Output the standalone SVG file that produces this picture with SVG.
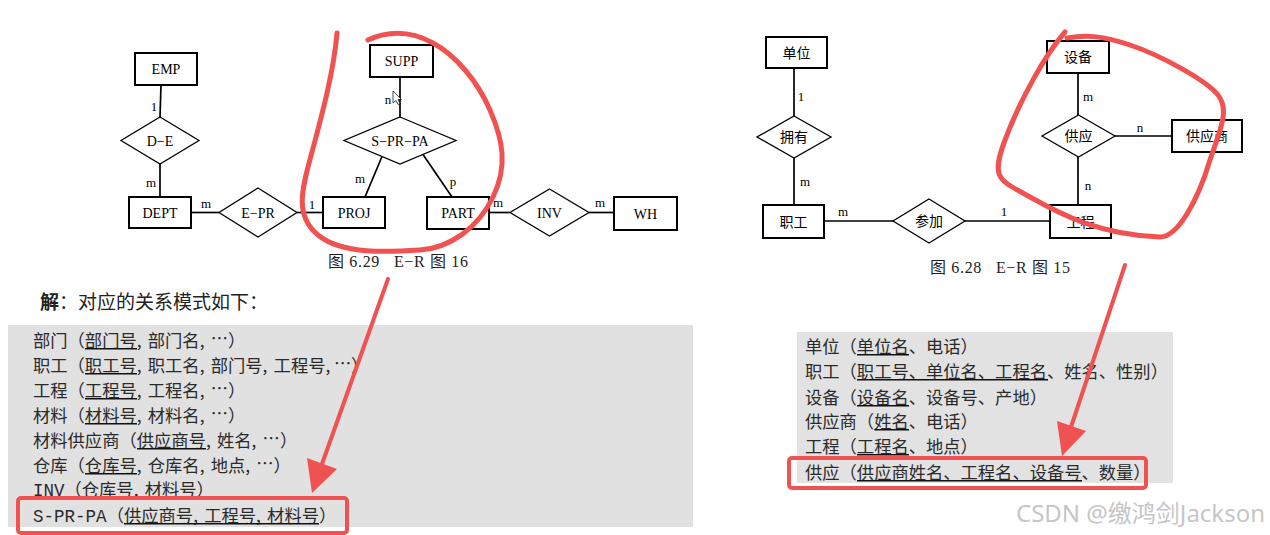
<svg xmlns="http://www.w3.org/2000/svg" width="1270" height="535" viewBox="0 0 1270 535">
<style>
.ent{fill:#fff;stroke:#000;stroke-width:2}
.rel{fill:#fff;stroke:#000;stroke-width:1.3}
.con line{stroke:#000;stroke-width:1.7}
.lbl{font-family:"Liberation Serif","Noto Sans CJK SC",serif;font-size:14px;text-anchor:middle;fill:#000}
.cjk{font-family:"Noto Sans CJK SC",sans-serif;font-size:14px;text-anchor:middle;fill:#000}
.card{font-family:"Liberation Serif",serif;font-size:13px;text-anchor:middle;fill:#000}
.cap{font-family:"Liberation Serif","Noto Sans CJK SC",serif;font-size:16px;fill:#222}
.body{font-family:"Noto Sans CJK SC",sans-serif;font-size:17.3px;fill:#2a2a2a}
.mono{font-family:"Liberation Mono",monospace;font-size:17.5px}
.ul{stroke:#111;stroke-width:1.5}
.red{fill:none;stroke:#f05252;stroke-width:5;stroke-linecap:round;stroke-linejoin:round}
.redbox{fill:none;stroke:#f05252;stroke-width:4}
</style>
<rect width="1270" height="535" fill="#fff"/>

<!-- gray panels -->
<rect x="8" y="325" width="685" height="202" fill="#e1e1e1"/>
<rect x="797" y="332" width="376" height="151" fill="#e2e2e2"/>

<!-- LEFT ER connectors -->
<g id="connectors-left" class="con">
<line x1="161" y1="85" x2="160" y2="117"/>
<line x1="160" y1="164" x2="160" y2="197"/>
<line x1="191" y1="212.5" x2="219" y2="212.5"/>
<line x1="297" y1="212.5" x2="323" y2="212.5"/>
<line x1="400" y1="77" x2="400" y2="117"/>
<line x1="382" y1="156.5" x2="365" y2="197"/>
<line x1="423" y1="154.5" x2="452" y2="197"/>
<line x1="489" y1="212.5" x2="510" y2="212.5"/>
<line x1="589" y1="212.5" x2="614" y2="212.5"/>
</g>
<g id="cards-left">
<text class="card" x="154" y="111">1</text>
<text class="card" x="151" y="187">m</text>
<text class="card" x="206" y="208">m</text>
<text class="card" x="312" y="209">1</text>
<text class="card" x="388" y="104">n</text>
<text class="card" x="360" y="183">m</text>
<text class="card" x="453" y="186">p</text>
<text class="card" x="498" y="207">m</text>
<text class="card" x="600" y="207">m</text>
</g>
<g id="EMP"><rect class="ent" x="135" y="53" width="62" height="32"/><text class="lbl" x="166" y="74">EMP</text></g>
<g id="D-E"><polygon class="rel" points="160,117 199,140.5 160,164 121,140.5"/><text class="lbl" x="160" y="145.5">D−E</text></g>
<g id="DEPT"><rect class="ent" x="129" y="197" width="62" height="31"/><text class="lbl" x="160" y="217.5">DEPT</text></g>
<g id="E-PR"><polygon class="rel" points="258,188 297,212.5 258,237 219,212.5"/><text class="lbl" x="258" y="217.5">E−PR</text></g>
<g id="PROJ"><rect class="ent" x="323" y="197" width="62" height="31"/><text class="lbl" x="354" y="217.5">PROJ</text></g>
<g id="SUPP"><rect class="ent" x="370" y="45" width="63" height="32"/><text class="lbl" x="401.5" y="66">SUPP</text></g>
<g id="S-PR-PA"><polygon class="rel" points="400,117 456,140.5 400,164 344,140.5"/><text class="lbl" x="400" y="145.5">S−PR−PA</text></g>
<g id="PART"><rect class="ent" x="427" y="197" width="62" height="32"/><text class="lbl" x="458" y="218">PART</text></g>
<g id="INV"><polygon class="rel" points="549.5,189 589,212.5 549.5,236 510,212.5"/><text class="lbl" x="549.5" y="217.5">INV</text></g>
<g id="WH"><rect class="ent" x="614" y="197" width="63" height="33"/><text class="lbl" x="645.5" y="218.5">WH</text></g>
<text class="cap" x="328" y="267" textLength="140" lengthAdjust="spacing" xml:space="preserve">图 6.29   E−R 图 16</text>
<!-- cursor -->
<polygon points="393,91 393,103 396,100.5 398,104.5 400,103.5 398,99.5 401.5,99.5" fill="#fff" stroke="#000" stroke-width="0.7"/>

<!-- RIGHT ER connectors -->
<g id="connectors-right" class="con">
<line x1="794" y1="68" x2="794" y2="116"/>
<line x1="794" y1="158" x2="794" y2="205"/>
<line x1="824" y1="221" x2="893" y2="221"/>
<line x1="965" y1="221" x2="1050" y2="221"/>
<line x1="1078" y1="73" x2="1078" y2="115"/>
<line x1="1115" y1="136" x2="1172" y2="136"/>
<line x1="1078" y1="157" x2="1078" y2="205"/>
</g>
<g id="cards-right">
<text class="card" x="801" y="101">1</text>
<text class="card" x="805" y="186">m</text>
<text class="card" x="843" y="216">m</text>
<text class="card" x="1004" y="216">1</text>
<text class="card" x="1088" y="101">m</text>
<text class="card" x="1140" y="132">n</text>
<text class="card" x="1088" y="190">n</text>
</g>
<g id="单位"><rect class="ent" x="766" y="37" width="61" height="31"/><text class="cjk" x="796.5" y="57.5">单位</text></g>
<g id="拥有"><polygon class="rel" points="794,116 831,137 794,158 757,137"/><text class="cjk" x="794" y="142">拥有</text></g>
<g id="职工"><rect class="ent" x="763" y="205" width="61" height="33"/><text class="cjk" x="793.5" y="226.5">职工</text></g>
<g id="参加"><polygon class="rel" points="929,199 965,221 929,243 893,221"/><text class="cjk" x="929" y="226">参加</text></g>
<g id="工程"><rect class="ent" x="1050" y="205" width="61" height="33"/><text class="cjk" x="1080.5" y="226.5">工程</text></g>
<g id="设备"><rect class="ent" x="1047" y="41" width="62" height="32"/><text class="cjk" x="1078" y="62">设备</text></g>
<g id="供应"><polygon class="rel" points="1078.5,115 1115,136 1078.5,157 1042,136"/><text class="cjk" x="1078.5" y="141">供应</text></g>
<g id="供应商"><rect class="ent" x="1172" y="120" width="70" height="32"/><text class="cjk" x="1207" y="141">供应商</text></g>
<text class="cap" x="930" y="273" textLength="140" lengthAdjust="spacing" xml:space="preserve">图 6.28   E−R 图 15</text>

<!-- LEFT text -->
<text x="40" y="309" font-family="Noto Sans CJK SC, sans-serif" font-size="19" fill="#222"><tspan font-weight="bold">解</tspan>：对应的关系模式如下：</text>
<g class="body">
<text y="346.5"><tspan x="33">部门（部门号</tspan><tspan x="136.8">,</tspan><tspan x="147.8">部门名</tspan><tspan x="199.7">,</tspan><tspan x="210.7" y="344.5">…</tspan><tspan x="228" y="346.5">）</tspan></text>
<text y="371.5"><tspan x="33">职工（职工号</tspan><tspan x="136.8">,</tspan><tspan x="147.8">职工名</tspan><tspan x="199.7">,</tspan><tspan x="210.7">部门号</tspan><tspan x="262.6">,</tspan><tspan x="273.6">工程号</tspan><tspan x="325.5">,</tspan><tspan x="334" y="369.5">…</tspan><tspan x="351" y="371.5">）</tspan></text>
<text y="396.5"><tspan x="33">工程（工程号</tspan><tspan x="136.8">,</tspan><tspan x="147.8">工程名</tspan><tspan x="199.7">,</tspan><tspan x="210.7" y="394.5">…</tspan><tspan x="228" y="396.5">）</tspan></text>
<text y="421.5"><tspan x="33">材料（材料号</tspan><tspan x="136.8">,</tspan><tspan x="147.8">材料名</tspan><tspan x="199.7">,</tspan><tspan x="210.7" y="419.5">…</tspan><tspan x="228" y="421.5">）</tspan></text>
<text y="446.5"><tspan x="33">材料供应商（供应商号</tspan><tspan x="206">,</tspan><tspan x="217">姓名</tspan><tspan x="251.6">,</tspan><tspan x="262.6" y="444.5">…</tspan><tspan x="279.9" y="446.5">）</tspan></text>
<text y="471.5"><tspan x="33">仓库（仓库号</tspan><tspan x="136.8">,</tspan><tspan x="147.8">仓库名</tspan><tspan x="199.7">,</tspan><tspan x="210.7">地点</tspan><tspan x="245.3">,</tspan><tspan x="256.3" y="469.5">…</tspan><tspan x="273.6" y="471.5">）</tspan></text>
<text y="495.5"><tspan x="33" class="mono">INV</tspan><tspan x="64.5">（仓库号</tspan><tspan x="133.7">,</tspan><tspan x="144.7">材料号）</tspan></text>
<text y="521.5"><tspan x="33" class="mono">S-PR-PA</tspan><tspan x="106.7">（供应商号</tspan><tspan x="193.2">,</tspan><tspan x="204.2">工程号</tspan><tspan x="256.1">,</tspan><tspan x="267.1">材料号）</tspan></text>
</g>
<g id="underlines-left" class="ul">
<line x1="85" y1="348.8" x2="137" y2="348.8"/>
<line x1="85" y1="373.8" x2="137" y2="373.8"/>
<line x1="85" y1="398.8" x2="137" y2="398.8"/>
<line x1="85" y1="423.8" x2="137" y2="423.8"/>
<line x1="137" y1="448.8" x2="206" y2="448.8"/>
<line x1="85" y1="473.8" x2="137" y2="473.8"/>
<line x1="124" y1="523.8" x2="319" y2="523.8"/>
</g>

<!-- RIGHT text -->
<g class="body">
<text x="805" y="352.5">单位（单位名、电话）</text>
<text x="805" y="377.5">职工（职工号、单位名、工程名、姓名、性别）</text>
<text x="805" y="403.5">设备（设备名、设备号、产地）</text>
<text x="805" y="427.5">供应商（姓名、电话）</text>
<text x="805" y="452.5">工程（工程名、地点）</text>
<text x="805" y="478.5">供应（供应商姓名、工程名、设备号、数量）</text>
</g>
<g id="underlines-right" class="ul">
<line x1="857" y1="354.8" x2="909" y2="354.8"/>
<line x1="857" y1="379.8" x2="1048" y2="379.8"/>
<line x1="857" y1="405.8" x2="909" y2="405.8"/>
<line x1="874.3" y1="429.8" x2="909" y2="429.8"/>
<line x1="857" y1="454.8" x2="909" y2="454.8"/>
<line x1="857" y1="480.8" x2="1082" y2="480.8"/>
</g>

<!-- watermark -->
<text x="1016" y="522" font-family="Noto Sans, Noto Sans CJK SC, sans-serif" font-size="24" fill="#c6c6c6" textLength="249" lengthAdjust="spacingAndGlyphs">CSDN @缴鸿剑Jackson</text>

<!-- red annotations -->
<g id="annotations">
<path class="red" d="M337,33 C334,70 322,115 312,152 S294,215 318,235 S390,252 420,250 S478,228 493,197 S503,140 490,110 S455,55 433,43 S390,30 368,40"/>
<path class="red" d="M1065,32 C1045,55 1020,100 1005,140 S1000,180 1030,197 S1100,235 1160,237 C1178,237 1198,200 1210,160 C1220,130 1230,110 1218,95 S1160,55 1130,45 S1085,35 1067,38"/>
<line x1="388" y1="279" x2="322" y2="464" stroke="#f05252" stroke-width="4" stroke-linecap="round"/>
<polygon points="312,493 307,458 337,469" fill="#f05252"/>
<line x1="1125" y1="265" x2="1071" y2="427" stroke="#f05252" stroke-width="4" stroke-linecap="round"/>
<polygon points="1062,456 1057,421 1086,431" fill="#f05252"/>
<rect class="redbox" x="18" y="498" width="329" height="35" rx="3"/>
<rect class="redbox" x="789" y="458" width="357" height="30" rx="3"/>
</g>
</svg>
